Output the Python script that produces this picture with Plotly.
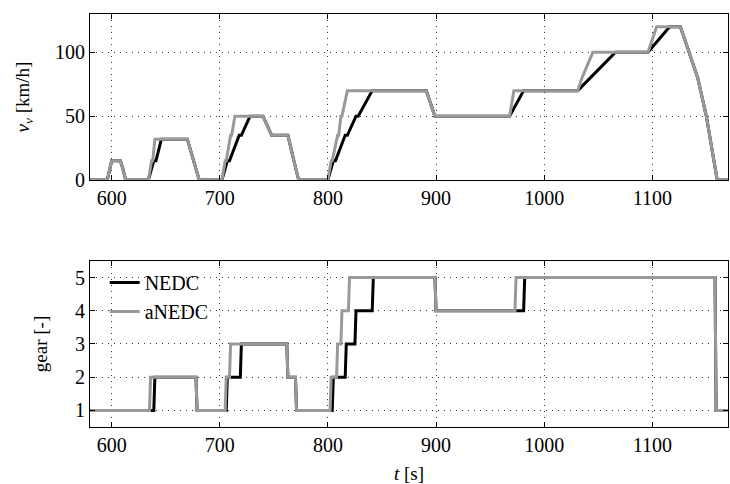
import plotly.graph_objects as go

# ---- speed data (km/h) ----
t_v_nedc = [580, 596, 600, 608, 610, 613, 634, 639, 641, 646, 670, 678, 681, 702, 707, 709, 718, 720, 728,
            740, 748, 761, 763, 770, 773, 800, 805, 807, 816, 818, 826, 828, 841, 891, 899, 968, 981, 1031,
            1066, 1096, 1116, 1126, 1142, 1150, 1160, 1170]
v_nedc = [0, 0, 15, 15, 10, 0, 0, 15, 15, 32, 32, 10, 0, 0, 15, 15, 35, 35, 50,
          50, 35, 35, 35, 10, 0, 0, 15, 15, 35, 35, 50, 50, 70, 70, 50, 50, 70, 70,
          100, 100, 120, 120, 80, 50, 0, 0]

t_v_anedc = [580, 596, 600, 608, 610, 613, 634, 637, 638, 640, 670, 678, 681, 702, 705, 706, 710, 711, 714,
             740, 748, 761, 763, 770, 773, 800, 803, 804, 809, 810, 812, 813, 818, 891, 899, 968, 972, 1031,
             1035, 1045, 1096, 1104, 1126, 1142, 1150, 1160, 1170]
v_anedc = [0, 0, 15, 15, 10, 0, 0, 15, 15, 32, 32, 10, 0, 0, 15, 15, 35, 35, 50,
           50, 35, 35, 35, 10, 0, 0, 15, 15, 35, 35, 50, 50, 70, 70, 50, 50, 70, 70,
           80, 100, 100, 120, 120, 80, 50, 0, 0]

# ---- gear data ----
t_g_nedc = [580, 639, 640, 678, 679, 706, 707, 719, 720, 762, 763, 770, 771, 804, 805, 816, 817, 825, 826,
            841, 842, 899, 900, 981, 982, 1158, 1159, 1170]
g_nedc = [1, 1, 2, 2, 1, 1, 2, 2, 3, 3, 2, 2, 1, 1, 2, 2, 3, 3, 4,
          4, 5, 5, 4, 4, 5, 5, 1, 1]

t_g_anedc = [580, 635, 636, 678, 679, 705, 706, 709, 710, 762, 763, 770, 771, 802, 803, 808, 809, 812, 813,
             819, 820, 899, 900, 973, 974, 1158, 1159, 1170]
g_anedc = [1, 1, 2, 2, 1, 1, 2, 2, 3, 3, 2, 2, 1, 1, 2, 2, 3, 3, 4,
           4, 5, 5, 4, 4, 5, 5, 1, 1]

x_ticks = [600, 700, 800, 900, 1000, 1100]
v_ticks = [0, 50, 100]
g_ticks = [1, 2, 3, 4, 5]

BLACK = "#000000"
GREY = "#999999"
FONT = "Liberation Serif, DejaVu Serif, serif"

fig = go.Figure()
fig.add_trace(go.Scatter(x=t_v_nedc, y=v_nedc, mode="lines", line=dict(color=BLACK, width=3),
                         xaxis="x", yaxis="y", showlegend=False))
fig.add_trace(go.Scatter(x=t_v_anedc, y=v_anedc, mode="lines", line=dict(color=GREY, width=3),
                         xaxis="x", yaxis="y", showlegend=False))
fig.add_trace(go.Scatter(x=t_g_nedc, y=g_nedc, mode="lines", line=dict(color=BLACK, width=3),
                         xaxis="x2", yaxis="y2", name="NEDC"))
fig.add_trace(go.Scatter(x=t_g_anedc, y=g_anedc, mode="lines", line=dict(color=GREY, width=3),
                         xaxis="x2", yaxis="y2", name="aNEDC"))

ax_common = dict(showline=True, linecolor="black", linewidth=1.2, mirror="allticks",
                 ticks="inside", ticklen=5, tickcolor="black",
                 showgrid=True, gridcolor="rgba(0,0,0,0.8)", griddash="1px,5px", gridwidth=1,
                 zeroline=False, tickfont=dict(family=FONT, size=20, color="black"))

fig.update_layout(
    width=730, height=484,
    margin=dict(l=90, r=2, t=14, b=57),
    paper_bgcolor="white", plot_bgcolor="white",
    font=dict(family=FONT, size=18, color="black"),
    xaxis=dict(domain=[0, 1], anchor="y", range=[580, 1170], tickvals=x_ticks, **ax_common),
    yaxis=dict(domain=[0.598, 1], anchor="x", range=[0, 130], tickvals=v_ticks,
               title=dict(text="<i>v</i><sub><i>v</i></sub> [km/h]", standoff=20,
                          font=dict(family=FONT, size=19)), **ax_common),
    xaxis2=dict(domain=[0, 1], anchor="y2", range=[580, 1170], tickvals=x_ticks,
                title=dict(text="<i>t</i> [s]", standoff=11, font=dict(family=FONT, size=19)), **ax_common),
    yaxis2=dict(domain=[0, 0.402], anchor="x2", range=[0.5, 5.5], tickvals=g_ticks,
                title=dict(text="gear [-]", standoff=22, font=dict(family=FONT, size=19)), **ax_common),
    legend=dict(x=0.023, y=0.397, xanchor="left", yanchor="top", bgcolor="rgba(0,0,0,0)",
                font=dict(family=FONT, size=20), tracegroupgap=0, itemwidth=30),
)

fig.write_html("out.html")
